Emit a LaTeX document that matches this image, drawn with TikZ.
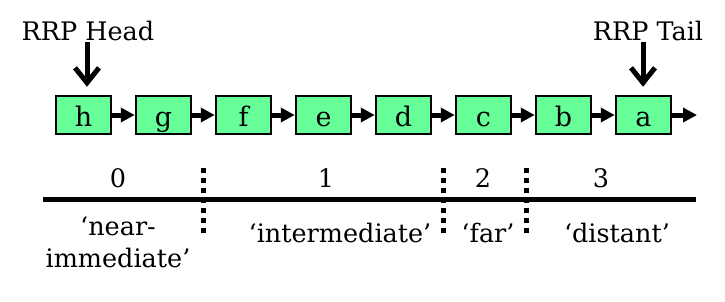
\documentclass[tikz,border=0pt]{standalone}
\usepackage{fontspec}
\setmainfont{DejaVu Serif}
\usetikzlibrary{arrows.meta}
\definecolor{boxgreen}{RGB}{102,255,153}
\begin{document}
\begin{tikzpicture}[x=1pt,y=-1pt,
  every node/.style={font=\fontsize{25.5}{32}\selectfont, inner sep=0pt},
  cell/.style={draw=black, line width=2.5pt, fill=boxgreen, minimum width=55pt, minimum height=38pt,
    font=\fontsize{27}{30}\selectfont, text height=22pt, text depth=0pt},
  link/.style={line width=5pt, -{Triangle[length=14pt,width=14pt]}},
  pointer/.style={line width=5pt, -{Straight Barb[length=15pt,width=24pt,line width=5pt]}},
  divider/.style={line width=5pt, dash pattern=on 5pt off 5pt}]
\useasboundingbox (0,0) rectangle (725,301);
% cells
\foreach \n/\x in {h/83.5,g/163.5,f/243.5,e/323.5,d/403.5,c/483.5,b/563.5,a/643.5}
  \node[cell] (\n) at (\x,115) {\n};
\foreach \p/\q in {h/g,g/f,f/e,e/d,d/c,c/b,b/a}
  \draw[link] (\p.east) -- (\q.west);
\coordinate (end) at (697,115);
\draw[link] (a.east) -- (end);
% head / tail
\node (head) at (88,31) {RRP Head};
\node (tail) at (648,31) {RRP Tail};
\coordinate (hp) at (87,42);
\coordinate (tp) at (643,42);
\draw[pointer,shorten >=8pt] (hp) -- (hp |- h.north);
\draw[pointer,shorten >=8pt] (tp) -- (tp |- a.north);
% timeline
\coordinate (L) at (43,199.5);
\coordinate (R) at (696,199.5);
\draw[line width=4.5pt] (L) -- (R);
\foreach \x in {203,443,526}
  \draw[divider] (\x,168) -- (\x,233);
% numbers
\node (n0) at (118,178) {0};
\node (n1) at (326,178) {1};
\node (n2) at (483,178) {2};
\node (n3) at (601,178) {3};
% labels
\node[align=center] (l0) at (118,242) {‘near-\\immediate’};
\node (l1) at (340,233) {‘intermediate’};
\node (l2) at (488,233) {‘far’};
\node (l3) at (617,233) {‘distant’};
\end{tikzpicture}
\end{document}
